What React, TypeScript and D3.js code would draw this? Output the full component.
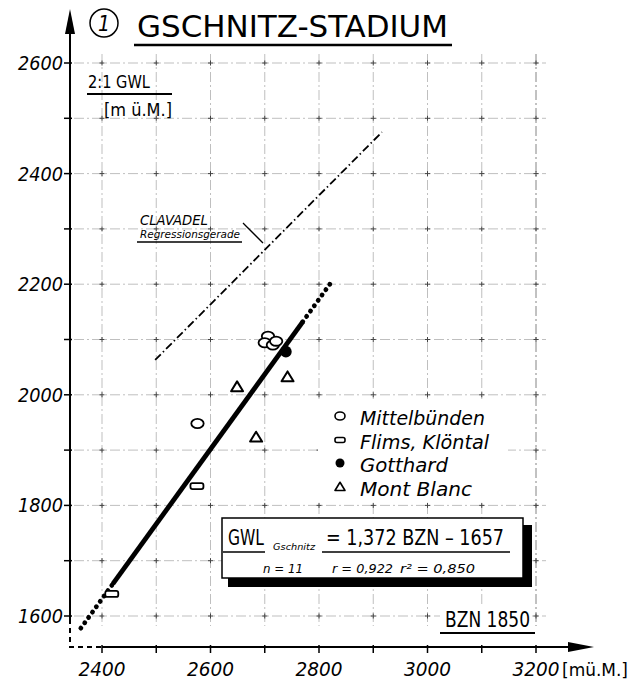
import React from "react";
import * as d3 from "d3";

// values (BZN 1850 vs 2:1 GWL, m ü.M.)
const mittelBZN = [2706, 2700, 2715, 2721, 2576];
const mittelGWL = [2106, 2094, 2090, 2097, 1948];
const flimsBZN = [2575, 2418];
const flimsGWL = [1835, 1640];
const gotthardBZN = [2739];
const gotthardGWL = [2078];
const montBlancBZN = [2742, 2649, 2684];
const montBlancGWL = [2032, 2014, 1923];

// Gschnitz regression line: dotted / solid / dotted parts
const regBZN = [2361, 2420, 2770, 2820];
const regGWL = [1578, 1658, 2132, 2200];
// Clavadel regression line (dash-dot)
const clavBZN = [2498, 2916];
const clavGWL = [2063, 2475];

const xTickLabels = [2400, 2600, 2800, 3000, 3200];
const yTickLabels = [1600, 1800, 2000, 2200, 2400, 2600];
const xGrid = [2400, 2500, 2600, 2700, 2800, 2900, 3000, 3100, 3200];
const yGrid = [1600, 1700, 1800, 1900, 2000, 2100, 2200, 2300, 2400, 2500, 2600];

const legendLabels = ["Mittelbünden", "Flims, Klöntal", "Gotthard", "Mont Blanc"];

const FONT = "'DejaVu Sans Condensed', 'DejaVu Sans', sans-serif";

const x = d3.scaleLinear().domain([2400, 3200]).range([102, 536]);
const y = d3.scaleLinear().domain([1600, 2600]).range([616, 63]);

const line = d3.line<[number, number]>().x(d => x(d[0])).y(d => y(d[1]));

const tri = (cx: number, cy: number, s: number) =>
  `M${cx},${cy - s * 0.95} L${cx + s},${cy + s * 0.7} L${cx - s},${cy + s * 0.7} Z`;

export default function App() {
  const regPts = regBZN.map((b, i) => [b, regGWL[i]] as [number, number]);
  const clavPts = clavBZN.map((b, i) => [b, clavGWL[i]] as [number, number]);
  const axisX = 70;
  const axisY = 647;

  return (
    <svg width={633} height={682} style={{ position: "absolute", left: 0, top: 0, background: "#fff" }}
      fontFamily={FONT}>
      {/* grid */}
      <g stroke="#b8b8b8" strokeWidth={0.9} strokeDasharray="10 3 2 3">
        {xGrid.map(v => (
          <line key={"gx" + v} x1={x(v)} x2={x(v)} y1={54} y2={626}
            stroke={v === 3200 ? "#777" : "#b8b8b8"} />
        ))}
        {yGrid.map(v => (
          <line key={"gy" + v} x1={74} x2={546} y1={y(v)} y2={y(v)} />
        ))}
      </g>
      <g stroke="#444" strokeWidth={1}>
        {xGrid.map(a => yGrid.map(b => (
          <g key={"c" + a + "_" + b}>
            <line x1={x(a) - 2.5} x2={x(a) + 2.5} y1={y(b)} y2={y(b)} />
            <line x1={x(a)} x2={x(a)} y1={y(b) - 2.5} y2={y(b) + 2.5} />
          </g>
        )))}
      </g>

      {/* white patches over grid */}
      <rect x={318} y={399} width={190} height={102} fill="#fff" />
      <rect x={440} y={604} width={92} height={26} fill="#fff" />

      {/* axes */}
      <line x1={axisX} x2={axisX} y1={30} y2={619} stroke="#000" strokeWidth={2} />
      <path d={`M${axisX},9 L${axisX + 5},34 L${axisX - 5},34 Z`} fill="#000" />
      <path d={`M${axisX},619 L${axisX},${axisY} L${x(2400)},${axisY}`} fill="none" stroke="#000"
        strokeWidth={2} strokeDasharray="5 4" />
      <line x1={x(2400)} x2={575} y1={axisY} y2={axisY} stroke="#000" strokeWidth={2} />
      <path d={`M594,${axisY} L568,${axisY - 5} L568,${axisY + 5} Z`} fill="#000" />
      {xGrid.map(v => (
        <line key={"xt" + v} x1={x(v)} x2={x(v)} y1={axisY - 2} y2={axisY + 6} stroke="#000" strokeWidth={1.5} />
      ))}
      {yGrid.map(v => (
        <line key={"yt" + v} x1={axisX - 6} x2={axisX + 2} y1={y(v)} y2={y(v)} stroke="#000" strokeWidth={1.5} />
      ))}
      {xTickLabels.map(v => (
        <text key={"xl" + v} x={x(v)} y={676} textAnchor="middle" fontSize={19} fontStyle="italic"
          textLength={47} lengthAdjust="spacingAndGlyphs">{v}</text>
      ))}
      <text x={562} y={676} fontSize={17} textLength={66} lengthAdjust="spacingAndGlyphs">[mü.M.]</text>
      {yTickLabels.map(v => (
        <text key={"yl" + v} x={63} y={y(v) + 7} textAnchor="end" fontSize={19} fontStyle="italic"
          textLength={45} lengthAdjust="spacingAndGlyphs">{v}</text>
      ))}

      {/* title */}
      <circle cx={104} cy={23} r={14} fill="none" stroke="#000" strokeWidth={1.5} />
      <text x={104} y={31} textAnchor="middle" fontSize={21} fontStyle="italic">1</text>
      <text x={137} y={37} fontSize={31} textLength={311} lengthAdjust="spacingAndGlyphs">GSCHNITZ-STADIUM</text>
      <line x1={134} x2={452} y1={45} y2={45} stroke="#000" strokeWidth={2.5} />

      {/* y axis title */}
      <text x={88} y={88} fontSize={18} textLength={62} lengthAdjust="spacingAndGlyphs">2:1 GWL</text>
      <line x1={87} x2={172} y1={94} y2={94} stroke="#000" strokeWidth={2} />
      <text x={104} y={116} fontSize={17} textLength={68} lengthAdjust="spacingAndGlyphs">[m ü.M.]</text>

      {/* Clavadel line and label */}
      <path d={line(clavPts) || ""} fill="none" stroke="#000" strokeWidth={1.8} strokeDasharray="8 3 1.5 3" />
      <text x={140} y={225} fontSize={14} fontStyle="italic" textLength={68} lengthAdjust="spacingAndGlyphs">CLAVADEL</text>
      <text x={140} y={238} fontSize={10} fontStyle="italic" textLength={100} lengthAdjust="spacingAndGlyphs">Regressionsgerade</text>
      <line x1={137} x2={242} y1={242} y2={242} stroke="#000" strokeWidth={1.5} />
      <line x1={243} x2={263} y1={223} y2={243} stroke="#000" strokeWidth={1.3} />

      {/* Gschnitz regression */}
      <path d={line(regPts.slice(0, 2)) || ""} fill="none" stroke="#000" strokeWidth={4.8}
        strokeLinecap="round" strokeDasharray="0.1 6.5" />
      <path d={line(regPts.slice(1, 3)) || ""} fill="none" stroke="#000" strokeWidth={4.8} />
      <path d={line(regPts.slice(2, 4)) || ""} fill="none" stroke="#000" strokeWidth={4.8}
        strokeLinecap="round" strokeDasharray="0.1 6.5" />

      {/* points */}
      <g fill="#fff" stroke="#000" strokeWidth={1.8}>
        {mittelBZN.map((b, i) => (
          <ellipse key={"m" + i} cx={x(b)} cy={y(mittelGWL[i])} rx={6.2} ry={4.6} />
        ))}
        {flimsBZN.map((b, i) => (
          <rect key={"f" + i} x={x(b) - 6.5} y={y(flimsGWL[i]) - 3} width={13} height={6} rx={2} />
        ))}
        {montBlancBZN.map((b, i) => (
          <path key={"t" + i} d={tri(x(b), y(montBlancGWL[i]), 6)} strokeWidth={2} strokeLinejoin="round" />
        ))}
      </g>
      {gotthardBZN.map((b, i) => (
        <circle key={"g" + i} cx={x(b)} cy={y(gotthardGWL[i])} r={5.8} fill="#000" />
      ))}

      {/* legend */}
      <g fill="#fff" stroke="#000" strokeWidth={1.6}>
        <ellipse cx={340} cy={416} rx={5} ry={4} />
        <rect x={335} y={437.5} width={10} height={5} rx={2} />
        <path d={tri(340, 487, 5)} strokeLinejoin="round" />
      </g>
      <circle cx={340} cy={463} r={4.5} fill="#000" />
      {legendLabels.map((l, i) => (
        <text key={l} x={360} y={425 + i * 23.5} fontSize={19} fontStyle="italic"
          textLength={[125, 129, 88, 112][i]} lengthAdjust="spacingAndGlyphs">{l}</text>
      ))}

      {/* equation box */}
      <rect x={228} y={525} width={304} height={62} fill="#000" />
      <rect x={222} y={518} width={301} height={60} fill="#fff" stroke="#000" strokeWidth={1.5} />
      <text x={228} y={545} fontSize={22} textLength={36} lengthAdjust="spacingAndGlyphs">GWL</text>
      <text x={273} y={550} fontSize={8.5} fontStyle="italic" textLength={42}
        lengthAdjust="spacingAndGlyphs">Gschnitz</text>
      <text x={326} y={545} fontSize={22} textLength={178} lengthAdjust="spacingAndGlyphs">= 1,372 BZN – 1657</text>
      <line x1={223} x2={265} y1={552} y2={552} stroke="#000" strokeWidth={1.5} />
      <line x1={322} x2={510} y1={552} y2={552} stroke="#000" strokeWidth={1.5} />
      <text x={263} y={573} fontSize={13} fontStyle="italic" textLength={40} lengthAdjust="spacingAndGlyphs">n = 11</text>
      <text x={332} y={573} fontSize={13} fontStyle="italic" textLength={61} lengthAdjust="spacingAndGlyphs">r = 0,922</text>
      <text x={400} y={573} fontSize={13} fontStyle="italic" textLength={75} lengthAdjust="spacingAndGlyphs">r² = 0,850</text>

      {/* BZN 1850 label */}
      <text x={445} y={627} fontSize={21} textLength={85} lengthAdjust="spacingAndGlyphs">BZN 1850</text>
      <line x1={440} x2={535} y1={633} y2={633} stroke="#000" strokeWidth={2} />
    </svg>
  );
}
